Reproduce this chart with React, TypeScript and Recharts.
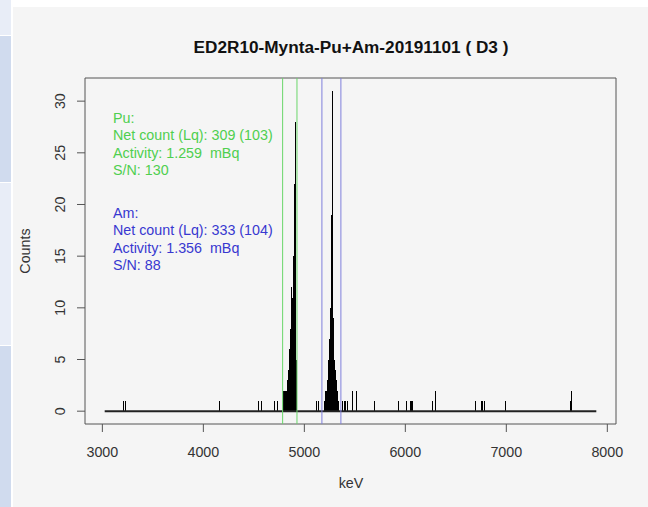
import { Bar, ComposedChart, ReferenceArea, ReferenceLine, XAxis, YAxis } from "recharts";

const X_TICKS = [3000, 4000, 5000, 6000, 7000, 8000];
const Y_TICKS = [0, 5, 10, 15, 20, 25, 30];
const X_RANGE = [2828, 8086];
const Y_RANGE = [-1.24, 32.24];
const BASELINE_KEV = [3023, 7891];
const PU_WINDOW = [4785, 4927];
const AM_WINDOW = [5174, 5362];

// isolated background counts
const SPIKE_KEV = [3206, 3233, 4160, 4550, 4576, 4706, 4733, 5118, 5140, 5381, 5395, 5409, 5423, 5480, 5520, 5691, 5931, 6007, 6047, 6060, 6073, 6271, 6294, 6699, 6755, 6768, 6781, 6992, 7640, 7645];
const SPIKE_COUNTS = [1, 1, 1, 1, 1, 1, 1, 1, 1, 1, 1, 1, 1, 2, 2, 1, 1, 1, 1, 1, 1, 1, 2, 1, 1, 1, 1, 1, 1, 2];

// Pu-242 peak
const PU_KEV = [4795, 4800, 4805, 4810, 4815, 4820, 4825, 4830, 4835, 4840, 4845, 4850, 4855, 4860, 4865, 4870, 4875, 4880, 4885, 4890, 4895, 4900, 4905, 4910, 4915, 4920, 4925];
const PU_COUNTS = [2, 1, 2, 1, 2, 1, 2, 3, 3, 4, 4, 5, 6, 8, 7, 9, 12, 10, 11, 13, 15, 18, 22, 28, 14, 5, 1];

// Am-243 peak
const AM_KEV = [5200, 5205, 5210, 5215, 5220, 5225, 5230, 5235, 5240, 5245, 5250, 5255, 5260, 5265, 5270, 5275, 5280, 5285, 5290, 5295, 5300, 5305, 5310, 5315, 5320, 5325, 5330, 5335, 5340];
const AM_COUNTS = [1, 2, 1, 2, 2, 3, 3, 4, 5, 6, 7, 9, 10, 14, 19, 31, 13, 9, 6, 5, 3, 4, 2, 3, 2, 1, 2, 1, 1];

const PU_TEXT = ["Pu:", "Net count (Lq): 309 (103)", "Activity: 1.259  mBq", "S/N: 130"];
const AM_TEXT = ["Am:", "Net count (Lq): 333 (104)", "Activity: 1.356  mBq", "S/N: 88"];

const FONT = "'Liberation Sans', Arial, Helvetica, sans-serif";
const GREEN_TEXT = "#4fcf4f";
const GREEN_LINE = "#6ad66a";
const BLUE_TEXT = "#3838d0";
const BLUE_LINE = "#7f7fdc";
const AXIS = "#555";

const spectrum = [
    ...SPIKE_KEV.map((kev, i) => ({ kev, count: SPIKE_COUNTS[i] })),
    ...PU_KEV.map((kev, i) => ({ kev, count: PU_COUNTS[i] })),
    ...AM_KEV.map((kev, i) => ({ kev, count: AM_COUNTS[i] })),
].sort((a, b) => a.kev - b.kev);

const XTick = (props: any) => (
    <text x={props.x} y={457} textAnchor="middle" fontFamily={FONT} fontSize={14.3} fill="#333">
        {props.payload.value}
    </text>
);

const YTick = (props: any) => {
    const x = 65;
    return (
        <text x={x} y={props.y} transform={`rotate(-90, ${x}, ${props.y})`} textAnchor="middle"
            fontFamily={FONT} fontSize={14.3} fill="#333">
            {props.payload.value}
        </text>
    );
};

// one channel = one vertical stroke snapped to the pixel grid, like R's type = "h"
const Channel = (props: any) => {
    const cx = props.x + props.width / 2;
    return (
        <rect x={Math.floor(cx)} y={Math.round(props.y)} width={1} height={Math.max(Math.round(props.height), 0)}
            fill="#000" shapeRendering="crispEdges" />
    );
};

const STRIPS = [
    { top: 0, height: 35, color: "#e8edf7" },
    { top: 36, height: 146, color: "#d0dbee" },
    { top: 183, height: 162, color: "#e8edf7" },
    { top: 346, height: 161, color: "#d0dbee" },
];

export default function App() {
    return (
        <div style={{ position: "absolute", left: 0, top: 0, width: 648, height: 507, background: "#fff", overflow: "hidden" }}>
            {STRIPS.map((s) => (
                <div key={s.top} style={{ position: "absolute", left: 0, top: s.top, width: 11, height: s.height, background: s.color }} />
            ))}
            <div style={{ position: "absolute", left: 13, top: 7, width: 635, height: 500, background: "#f5f5f5" }} />
            <div style={{ position: "absolute", left: 0, top: 0 }}>
                <ComposedChart width={648} height={507} data={spectrum}
                    margin={{ top: 78, right: 32, bottom: 53, left: 25 }}>
                    <XAxis dataKey="kev" type="number" domain={X_RANGE} ticks={X_TICKS} allowDataOverflow
                        height={30} tickSize={8} axisLine={false} tickLine={{ stroke: AXIS }} tick={<XTick />} />
                    <YAxis type="number" domain={Y_RANGE} ticks={Y_TICKS} allowDataOverflow width={60}
                        tickSize={8} axisLine={false} tickLine={{ stroke: AXIS }} tick={<YTick />} />
                    <ReferenceArea x1={X_RANGE[0]} x2={X_RANGE[1]} y1={Y_RANGE[0]} y2={Y_RANGE[1]}
                        fill="none" stroke={AXIS} strokeWidth={1} />
                    <ReferenceLine segment={[{ x: BASELINE_KEV[0], y: 0 }, { x: BASELINE_KEV[1], y: 0 }]}
                        stroke="#222" strokeWidth={2} />
                    {PU_WINDOW.map((k) => (
                        <ReferenceLine key={k} x={k} stroke={GREEN_LINE} strokeWidth={1} />
                    ))}
                    {AM_WINDOW.map((k) => (
                        <ReferenceLine key={k} x={k} stroke={BLUE_LINE} strokeWidth={1} />
                    ))}
                    <Bar dataKey="count" fill="#000" barSize={1} shape={<Channel />} isAnimationActive={false} />
                </ComposedChart>
            </div>
            <svg width={648} height={507} style={{ position: "absolute", left: 0, top: 0, pointerEvents: "none" }}
                fontFamily={FONT}>
                <text x={351} y={53} textAnchor="middle" fontSize={17.2} fontWeight="bold" fill="#111">
                    ED2R10-Mynta-Pu+Am-20191101 ( D3 )
                </text>
                <text x={351} y={488} textAnchor="middle" fontSize={14.3} fill="#333">keV</text>
                <text x={30} y={251} transform="rotate(-90, 30, 251)" textAnchor="middle" fontSize={14.3} fill="#333">
                    Counts
                </text>
                {PU_TEXT.map((t, i) => (
                    <text key={t} x={113} y={123 + i * 17.3} fontSize={14.3} fill={GREEN_TEXT} style={{ whiteSpace: "pre" }}>
                        {t}
                    </text>
                ))}
                {AM_TEXT.map((t, i) => (
                    <text key={t} x={113} y={218 + i * 17.3} fontSize={14.3} fill={BLUE_TEXT} style={{ whiteSpace: "pre" }}>
                        {t}
                    </text>
                ))}
            </svg>
        </div>
    );
}
